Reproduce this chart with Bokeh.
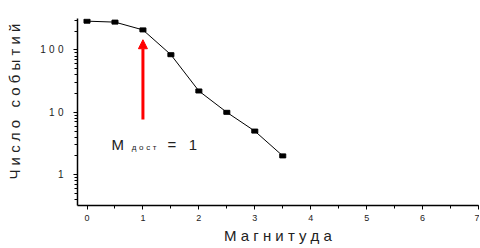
from bokeh.plotting import figure
from bokeh.models import (Range1d, SingleIntervalTicker, FixedTicker, Arrow, NormalHead,
                          Label, ColumnDataSource)
from bokeh.embed import file_html
from bokeh.resources import INLINE

# data
magnitude = [0, 0.5, 1, 1.5, 2, 2.5, 3, 3.5]
events = [290, 280, 210, 84, 22, 10, 5, 2]
arrow_x = 1
arrow_y_start = 7.7
arrow_y_end = 146
S = "\u00a0"
W = "\u2004"
x_axis_title = S.join("Магнитуда")
y_axis_title = S * 5 + S.join("Число") + S * 3 + S.join("событий")
y_major = [1, 10, 100]
y_minor = [0.4, 0.5, 0.6, 0.7, 0.8, 0.9, 2, 3, 4, 5, 6, 7, 8, 9,
           20, 30, 40, 50, 60, 70, 80, 90, 200, 300]
y_label_overrides = {1: "1", 10: W.join("10"), 100: W.join("100")}

FONT = "Liberation Sans"
TXT = "#222222"

p = figure(width=479, height=246, y_axis_type="log", output_backend="svg",
           toolbar_location=None,
           x_range=Range1d(-0.17, 7.0), y_range=Range1d(0.32, 320),
           min_border_left=77, min_border_right=1, min_border_top=18,
           min_border_bottom=39)
p.outline_line_color = None
p.xgrid.visible = False
p.ygrid.visible = False

src = ColumnDataSource(dict(x=magnitude, y=events))
p.line("x", "y", source=src, line_color="black", line_width=1)
p.rect("x", "y", width=6, height=4, width_units="screen", height_units="screen",
       source=src, fill_color="black", line_color="black")

p.add_layout(Arrow(end=NormalHead(size=9, fill_color="red", line_color="red"),
                   x_start=arrow_x, y_start=arrow_y_start, x_end=arrow_x, y_end=arrow_y_end,
                   line_color="red", line_width=3))

p.add_layout(Label(x=0.44, y=3.1, text="М", text_font=FONT, text_font_size="15px",
                   text_color=TXT, text_baseline="alphabetic"))
p.add_layout(Label(x=0.80, y=2.68, text=W.join("дост"), text_font=FONT, text_font_size="8px",
                   text_color=TXT, text_baseline="alphabetic"))
p.add_layout(Label(x=1.44, y=3.1, text="=" + S * 3 + "1", text_font=FONT, text_font_size="15px",
                   text_color=TXT, text_baseline="alphabetic"))

xa = p.xaxis[0]
xa.ticker = SingleIntervalTicker(interval=1, num_minor_ticks=2)
xa.axis_label = x_axis_title
xa.axis_label_text_font = FONT
xa.axis_label_text_font_size = "15px"
xa.axis_label_text_font_style = "normal"
xa.axis_label_text_color = TXT
xa.axis_label_standoff = 3
xa.major_label_text_font = FONT
xa.major_label_text_font_size = "9px"
xa.major_label_text_color = TXT
xa.major_label_standoff = 5

ya = p.yaxis[0]
ya.ticker = FixedTicker(ticks=y_major, minor_ticks=y_minor)
ya.major_label_overrides = y_label_overrides
ya.axis_label = y_axis_title
ya.axis_label_text_font = FONT
ya.axis_label_text_font_size = "15px"
ya.axis_label_text_font_style = "normal"
ya.axis_label_text_color = TXT
ya.axis_label_standoff = 14
ya.major_label_text_font = FONT
ya.major_label_text_font_size = "10px"
ya.major_label_text_color = TXT
ya.major_label_standoff = 10

for ax in (xa, ya):
    ax.axis_line_color = "black"
    ax.axis_line_width = 1.5
    ax.major_tick_line_color = "black"
    ax.minor_tick_line_color = "black"
    ax.major_tick_in = 0
    ax.minor_tick_in = 0
    ax.major_tick_out = 4
    ax.minor_tick_out = 3

open("out.html", "w").write(file_html(p, INLINE))
